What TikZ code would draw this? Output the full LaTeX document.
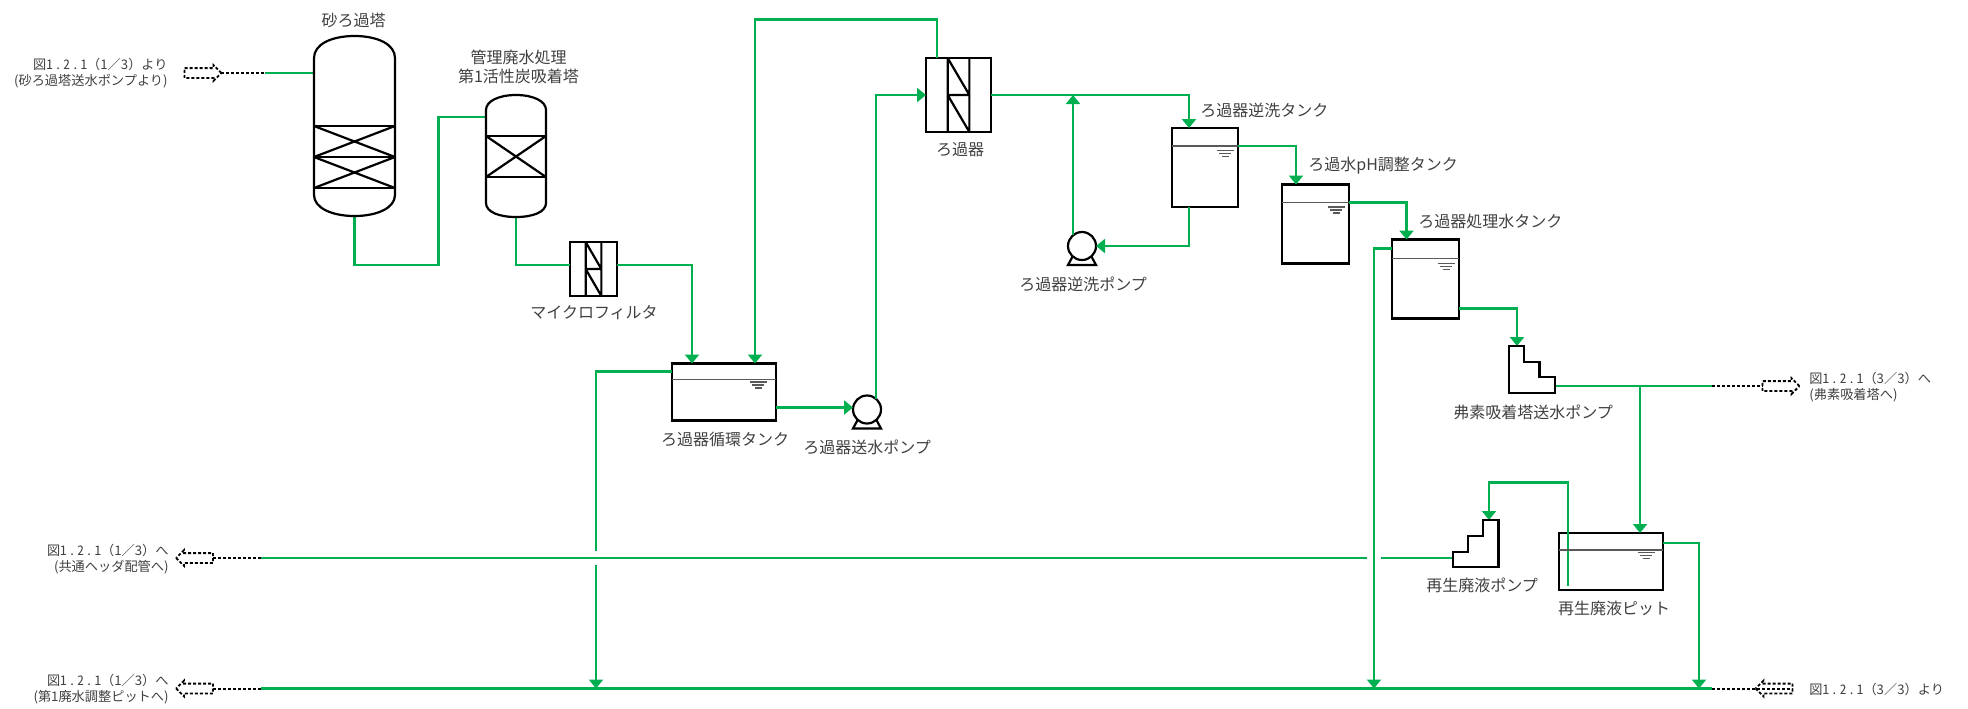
\documentclass[tikz,border=0pt]{standalone}
\usepackage{fontspec}
\setmainfont{Noto Sans CJK JP}
\newfontfamily\halffont[RawFeature=+hwid, LetterSpace=15]{Noto Sans CJK JP}
\usetikzlibrary{arrows.meta, calc, shapes.arrows}
\definecolor{pipegreen}{HTML}{00B050}
\definecolor{inkgray}{HTML}{404040}
\tikzset{
  pipe/.style={draw=pipegreen, line width=1.15pt},
  dotline/.style={draw=black, line width=1pt, dash pattern=on 1.5pt off 1pt},
  vessel/.style={draw=black, line width=1.1pt, line join=miter},
  tank/.style={draw=black, line width=1.1pt, inner sep=0pt, outer sep=0pt, fill=none},
  hollow/.style={inner sep=0pt, outer sep=0pt},
  pumpbody/.style={circle, draw=black, line width=1.1pt, inner sep=0pt, outer sep=0pt, minimum size=14pt},
  level/.style={draw=black!65, line width=.7pt},
  offarrow/.style={single arrow, draw=black, line width=.9pt, dash pattern=on 1.5pt off 1pt,
        inner xsep=0pt, inner ysep=2pt, outer sep=0pt, minimum height=18.5pt,
        single arrow head extend=1.5pt},
  lbl/.style={font=\fontsize{8}{9.5}\selectfont, text=inkgray, inner sep=0pt, align=center},
  note/.style={font=\fontsize{6.6}{8}\selectfont, text=inkgray, inner sep=0pt},
}
\begin{document}
\begin{tikzpicture}[x=0.5pt, y=-0.5pt, >={Triangle[length=4.5pt, width=7pt]}]
  \useasboundingbox (0,0) rectangle (1968,708);

  % towers, tanks, filters
  \node[hollow, minimum width=40.5pt, minimum height=90pt] (sand) at (354.5,126) {};
  \node[hollow, minimum width=30pt, minimum height=61pt] (carbon) at (516,156) {};
  \node[tank, minimum width=23.5pt, minimum height=27pt] (mf) at (593.5,269) {};
  \node[tank, minimum width=32.5pt, minimum height=37pt] (bf) at (958.5,95) {};
  \node[tank, minimum width=52pt, minimum height=28.5pt] (tkc) at (724,392) {};
  \node[tank, minimum width=33pt, minimum height=39.5pt] (tkw) at (1205,167.5) {};
  \node[tank, minimum width=33.5pt, minimum height=39.5pt] (tkp) at (1315.5,224) {};
  \node[tank, minimum width=33.5pt, minimum height=39.5pt] (tkt) at (1425.5,279) {};
  \node[tank, minimum width=52pt, minimum height=28.5pt] (tkr) at (1611,561.5) {};
  \node[pumpbody] (pa) at (867,409.5) {};
  \node[pumpbody] (pb) at (1082,246) {};
  \node[hollow, minimum width=23pt, minimum height=23.5pt] (pc) at (1532,369.5) {};
  \node[hollow, minimum width=23pt, minimum height=23.5pt] (pd) at (1476,543.5) {};

  \node[offarrow] (inA) at (200.5,73) {};
  \node[offarrow, shape border rotate=180] (outB) at (197,558) {};
  \node[offarrow, shape border rotate=180] (outC) at (197,688.5) {};
  \node[offarrow] (outD) at (1778.5,386) {};
  \node[offarrow, shape border rotate=180] (inE) at (1776.5,688.5) {};

  \coordinate (inAend) at (265,73);
  \coordinate (bendA) at (438.5,265);
  \coordinate (topR) at (755,19.5);
  \coordinate (hdrC1) at (596,688.5);
  \coordinate (hdrC2) at (1374,688.5);
  \coordinate (hdrC3) at (1699,688.5);
  \coordinate (hdrCl) at (261,688.5);
  \coordinate (hdrCr) at (1712,688.5);
  \coordinate (gapUp) at (596,551);
  \coordinate (gapDn) at (596,565);
  \coordinate (hdrBl) at (261,558);
  \coordinate (gapL) at (1366.5,558);
  \coordinate (gapR) at (1381,558);
  \coordinate (outDl) at (1712,386);
  \coordinate (tee) at (1640,386);
  \coordinate (sucB) at (1568,585.5);
  \coordinate (sucT) at (1489,482.5);

  % pipes
  \draw[dotline] (inA.east) -- (inAend);
  \draw[pipe] (inAend) -- (sand.west |- inAend);
  \draw[pipe] (sand.south) |- (bendA) |- ([yshift=19.5pt]carbon.west);
  \draw[pipe] (carbon.south) |- ([yshift=2pt]mf.west);
  \draw[pipe, ->] ([yshift=2pt]mf.east) -| ([xshift=-16pt]tkc.north);
  \draw[pipe, ->] ([xshift=-10.75pt]bf.north) |- (topR) -- ([xshift=15.5pt]tkc.north);
  \draw[pipe] ([yshift=10.25pt]tkc.west) -| (gapUp);
  \draw[pipe, ->] (gapDn) -- (hdrC1);
  \draw[pipe, ->] ([yshift=-7.75pt]tkc.east) -- ([yshift=1pt]pa.west);
  \draw[pipe, ->] (pa.50) |- (bf.west);
  \draw[pipe, ->] (bf.east) -| ([xshift=-8pt]tkw.north);
  \draw[pipe, ->] (pb.130) -- (pb.130 |- bf.east);
  \draw[pipe, ->] ([xshift=-8pt]tkw.south) |- (pb.east);
  \draw[pipe, ->] ([yshift=10.75pt]tkw.east) -| ([xshift=-9.75pt]tkp.north);
  \draw[pipe, ->] ([yshift=10.75pt]tkp.east) -| ([xshift=-9.5pt]tkt.north);
  \draw[pipe, ->] ([yshift=15.25pt]tkt.west) -| (hdrC2);
  \draw[pipe, ->] ([yshift=-14.75pt]tkt.east) -| ([xshift=-7.5pt]pc.north);
  \draw[pipe] ([yshift=-8.25pt]pc.east) -- (outDl);
  \draw[dotline] (outDl) -- (outD.west);
  \draw[pipe, ->] (tee) -- ([xshift=14.5pt]tkr.north);
  \draw[pipe, ->] ([yshift=9.25pt]tkr.east) -| (hdrC3);
  \draw[pipe] ([yshift=-7.25pt]pd.west) -- (gapR);
  \draw[pipe] (gapL) -- (hdrBl);
  \draw[dotline] (hdrBl) -- (outB.east);
  \draw[pipe] (hdrCl) -- (hdrCr);
  \draw[dotline] (hdrCl) -- (outC.east);
  \draw[dotline] (hdrCr) -- (inE.east);
  \draw[pipe, ->] (sucB) |- (sucT) -- ([xshift=6.5pt]pd.north);

  % sand tower
  \draw[vessel] (314,58) .. controls (314,44) and (332,36) .. (354.5,36)
    .. controls (377,36) and (395,44) .. (395,58) -- (395,195)
    .. controls (395,208) and (377,216) .. (354.5,216)
    .. controls (332,216) and (314,208) .. (314,195) -- cycle;
  \draw[vessel] (314,126) -- (395,126) (314,157) -- (395,157) (314,188) -- (395,188);
  \draw[vessel] (314,126) -- (395,157) (395,126) -- (314,157);
  \draw[vessel] (314,157) -- (395,188) (395,157) -- (314,188);

  % carbon tower
  \draw[vessel] (486,110) .. controls (486,101) and (499,95) .. (516,95)
    .. controls (533,95) and (546,101) .. (546,110) -- (546,203)
    .. controls (546,212) and (533,217) .. (516,217)
    .. controls (499,217) and (486,212) .. (486,203) -- cycle;
  \draw[vessel] (486,136) -- (546,136) (486,177) -- (546,177);
  \draw[vessel] (486,136) -- (546,177) (546,136) -- (486,177);

  % filter inner lines
  \foreach \flt in {mf, bf} {
    \coordinate (tl) at ($(\flt.north west)!.333!(\flt.north east)$);
    \coordinate (tr) at ($(\flt.north west)!.667!(\flt.north east)$);
    \coordinate (bl) at ($(\flt.south west)!.333!(\flt.south east)$);
    \coordinate (br) at ($(\flt.south west)!.667!(\flt.south east)$);
    \coordinate (ml) at ($(tl)!.5!(bl)$);
    \coordinate (mr) at ($(tr)!.5!(br)$);
    \draw[vessel] (tl) -- (bl) (tr) -- (br) (ml) -- (mr) (tl) -- (mr) (ml) -- (br);
  }

  % liquid levels
  \foreach \tnk/\lv in {tkc/8, tkw/9, tkp/9, tkt/9.5, tkr/8.5} {
    \draw[level] ([yshift=-\lv pt]\tnk.north west) -- ([yshift=-\lv pt]\tnk.north east);
  }
  \foreach \mx/\my in {758/382, 1225/150.5, 1336/207, 1446/263.5, 1646/552.5} {
    \draw[level] (\mx-8.5,\my) -- (\mx+8.5,\my);
    \draw[level] (\mx-6,\my+3) -- (\mx+6,\my+3);
    \draw[level] (\mx-3.5,\my+6) -- (\mx+3.5,\my+6);
  }

  % pumps
  \foreach \pmp in {pa, pb} {
    \draw[vessel] (\pmp.-132) -- ([shift={(-7pt,-9.5pt)}]\pmp.center)
      -- ([shift={(7pt,-9.5pt)}]\pmp.center) -- (\pmp.-48);
  }
  \draw[vessel] (1509,346) -- (1524,346) -- (1524,362) -- (1539.5,362) -- (1539.5,377)
    -- (1555,377) -- (1555,393) -- (1509,393) -- cycle;
  \draw[vessel] (1498.5,520) -- (1483,520) -- (1483,536) -- (1468,536) -- (1468,552)
    -- (1453,552) -- (1453,567) -- (1498.5,567) -- cycle;

  % labels
  \node[lbl] (lSand) at (353.5,20) {砂ろ過塔};
  \node[lbl] (lCarbon) at (518.5,66.5) {管理廃水処理\\第1活性炭吸着塔};
  \node[lbl] (lMf) at (594,312.5) {マイクロフィルタ};
  \node[lbl] (lTkc) at (725,439) {ろ過器循環タンク};
  \node[lbl] (lPa) at (867,447) {ろ過器送水ポンプ};
  \node[lbl] (lBf) at (960,150) {ろ過器};
  \node[lbl] (lPb) at (1083,284) {ろ過器逆洗ポンプ};
  \node[lbl, anchor=west] (lTkw) at (1200,110) {ろ過器逆洗タンク};
  \node[lbl, anchor=west] (lTkp) at (1308,165.5) {ろ過水pH調整タンク};
  \node[lbl, anchor=west] (lTkt) at (1418,221.5) {ろ過器処理水タンク};
  \node[lbl] (lPc) at (1533,412) {弗素吸着塔送水ポンプ};
  \node[lbl] (lPd) at (1482,585.5) {再生廃液ポンプ};
  \node[lbl] (lTkr) at (1614,608.5) {再生廃液ピット};

  \node[note, anchor=east, align=right] (nA) at (168,73) {図{\halffont 1.2.1}（1／3）より\\(砂ろ過塔送水ポンプより)};
  \node[note, anchor=east, align=right] (nB) at (169,559) {図{\halffont 1.2.1}（1／3）へ\\(共通ヘッダ配管へ)};
  \node[note, anchor=east, align=right] (nC) at (169,689.5) {図{\halffont 1.2.1}（1／3）へ\\(第1廃水調整ピットへ)};
  \node[note, anchor=west, align=left] (nD) at (1809,387.5) {図{\halffont 1.2.1}（3／3）へ\\(弗素吸着塔へ)};
  \node[note, anchor=west] (nE) at (1809,689) {図{\halffont 1.2.1}（3／3）より};
\end{tikzpicture}
\end{document}
